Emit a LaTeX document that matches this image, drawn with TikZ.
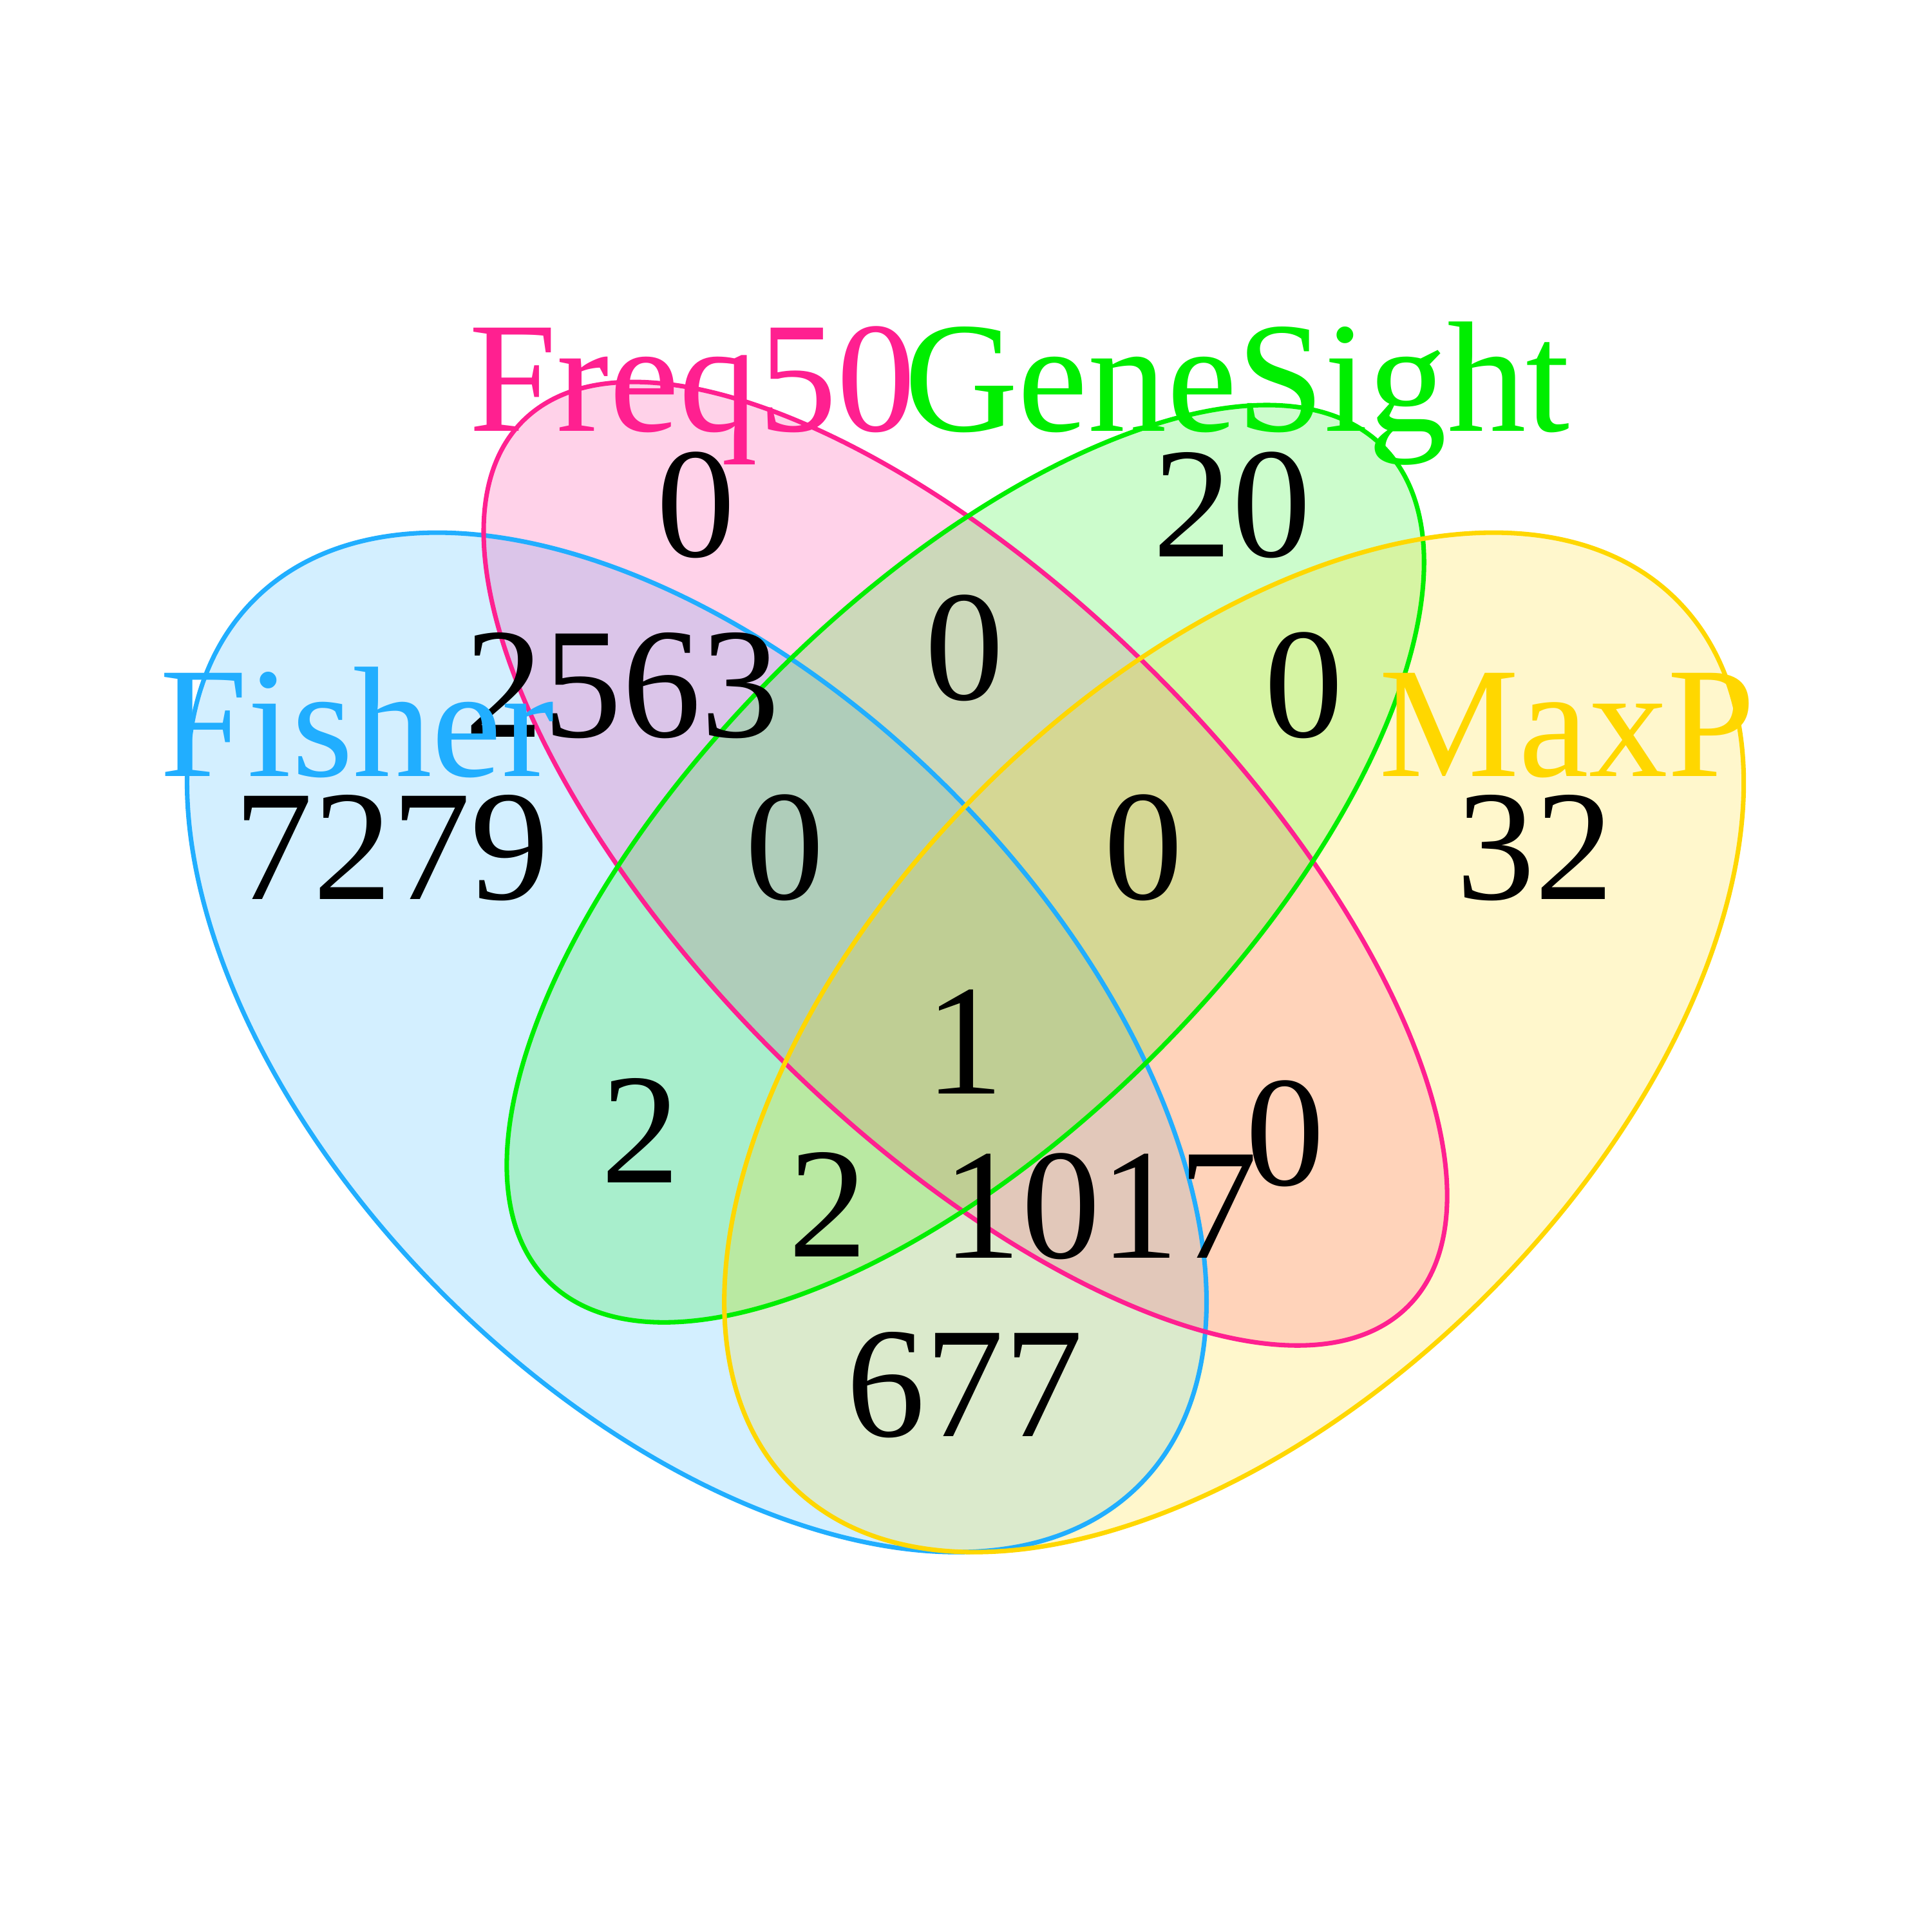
\documentclass[tikz,border=0pt]{standalone}
\usepackage{fontspec}
\setmainfont{Liberation Serif}
\definecolor{fishercol}{RGB}{33,174,255}
\definecolor{freqcol}{RGB}{255,32,144}
\definecolor{genecol}{RGB}{0,238,0}
\definecolor{maxpcol}{RGB}{255,215,0}
\begin{document}
\begin{tikzpicture}[line width=1.05pt,
  num/.style={anchor=base, inner sep=0pt, font=\fontsize{36.4}{40}\selectfont},
  lab/.style={anchor=base, inner sep=0pt, font=\fontsize{36.4}{40}\selectfont}]
\useasboundingbox (0,0) rectangle (15.68,15.68);

% fills
\fill[fishercol, fill opacity=0.2, shift={(5.655,7.22)}, rotate=-45] (0,0) ellipse (5.08 and 2.90);
\fill[freqcol, fill opacity=0.2, shift={(7.835,8.67)}, rotate=-45] (0,0) ellipse (5.08 and 2.18);
\fill[genecol, fill opacity=0.2, shift={(7.835,8.67)}, rotate=45] (0,0) ellipse (4.79 and 2.18);
\fill[maxpcol, fill opacity=0.2, shift={(10.015,7.22)}, rotate=45] (0,0) ellipse (5.08 and 2.90);

% outlines
\draw[fishercol, shift={(5.655,7.22)}, rotate=-45] (0,0) ellipse (5.08 and 2.90);
\draw[freqcol, shift={(7.835,8.67)}, rotate=-45] (0,0) ellipse (5.08 and 2.18);
\draw[genecol, shift={(7.835,8.67)}, rotate=45] (0,0) ellipse (4.79 and 2.18);
\draw[maxpcol, shift={(10.015,7.22)}, rotate=45] (0,0) ellipse (5.08 and 2.90);

% counts
\node[num](N1) at (3.18,8.38){7279};
\node[num](N2) at (5.05,9.70){2563};
\node[num](N3) at (5.65,11.16){0};
\node[num](N4) at (10.00,11.16){20};
\node[num](N5) at (7.83,10.00){0};
\node[num](N6) at (10.58,9.70){0};
\node[num](N7) at (12.46,8.38){32};
\node[num](N8) at (6.37,8.38){0};
\node[num](N9) at (9.28,8.38){0};
\node[num](N10) at (7.83,6.80){1};
\node[num](N11) at (5.20,6.08){2};
\node[num](N12) at (10.43,6.06){0};
\node[num](N13) at (6.72,5.48){2};
\node[num](N14) at (8.93,5.47){1017};
\node[num](N15) at (7.83,4.02){677};

% set names
\node[lab, text=freqcol](L1) at (5.62,12.18){Freq50};
\node[lab, text=genecol](L2) at (10.04,12.18){GeneSight};
\node[lab, text=fishercol](L3) at (2.90,9.38){Fisher};
\node[lab, text=maxpcol](L4) at (12.72,9.38){MaxP};
\end{tikzpicture}
\end{document}
